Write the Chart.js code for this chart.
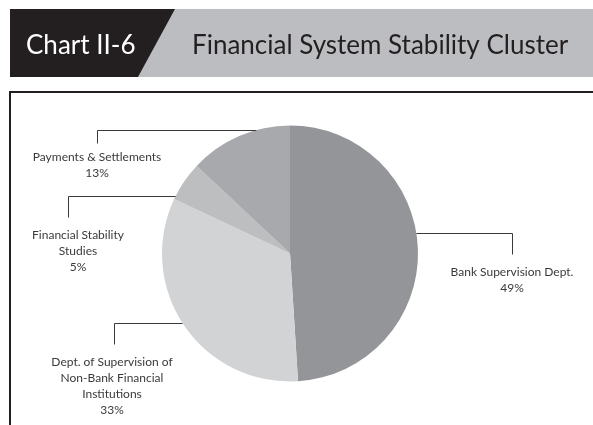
<!DOCTYPE html>
<html>
<head>
<meta charset="utf-8">
<script src="https://cdn.jsdelivr.net/npm/chart.js@4"></script>
<style>
  body { margin: 0; background: #fff; }
  canvas { display: block; }
</style>
</head>
<body>
<canvas id="clusterChart" width="593" height="425"></canvas>
<script>
// slices clockwise from 12 o'clock
const categories = [
    ['Bank Supervision Dept.'],
    ['Dept. of Supervision of', 'Non-Bank Financial', 'Institutions'],
    ['Financial Stability', 'Studies'],
    ['Payments & Settlements']
];
const shares = [49, 33, 5, 13];
const sliceColors = ['#939598', '#d1d3d4', '#bcbec0', '#a7a9ac'];

const chartNumber = 'Chart II-6';
const chartTitle = 'Financial System Stability Cluster';

// where each leader line leaves the pie (y offset from centre), label x, drop length
const leaders = [
    { dy: -20.5, side: 1, labelX: 512, drop: 21, gap: 18 },
    { dy: 69.5, side: -1, labelX: 114, drop: 21, gap: 18, textX: 112 },
    { dy: -57.5, side: -1, labelX: 68, drop: 21, gap: 18, textX: 78 },
    { dy: -123.5, side: -1, labelX: 97, drop: 13, gap: 14 }
];

const frameAndHeader = {
    id: 'frameAndHeader',
    beforeDraw(chart) {
        const ctx = chart.ctx;
        ctx.save();
        ctx.fillStyle = '#fff';
        ctx.fillRect(0, 0, chart.width, chart.height);

        // grey band
        ctx.fillStyle = '#bcbdc0';
        ctx.fillRect(10, 9, chart.width - 10, 68);
        // dark box with slanted edge
        ctx.fillStyle = '#231f20';
        ctx.beginPath();
        ctx.moveTo(10, 9);
        ctx.lineTo(175, 9);
        ctx.lineTo(138, 77);
        ctx.lineTo(10, 77);
        ctx.closePath();
        ctx.fill();

        ctx.font = '26px Lato';
        ctx.textBaseline = 'alphabetic';
        ctx.fillStyle = '#ffffff';
        ctx.fillText(chartNumber, 26, 54);
        ctx.fillStyle = '#231f20';
        ctx.fillText(chartTitle, 192, 54);

        // frame
        ctx.strokeStyle = '#231f20';
        ctx.lineWidth = 2;
        ctx.beginPath();
        ctx.moveTo(chart.width, 92);
        ctx.lineTo(10, 92);
        ctx.lineTo(10, chart.height);
        ctx.stroke();
        ctx.restore();
    }
};

const leaderLabels = {
    id: 'leaderLabels',
    afterDraw(chart) {
        const ctx = chart.ctx;
        const arcs = chart.getDatasetMeta(0).data;
        ctx.save();
        ctx.strokeStyle = '#3a3a3a';
        ctx.lineWidth = 1;
        ctx.fillStyle = '#3a3a3a';
        ctx.font = '12px Lato';
        ctx.textAlign = 'center';
        ctx.textBaseline = 'middle';
        arcs.forEach(function(arc, i) {
            const l = leaders[i];
            const r = arc.outerRadius;
            const y = Math.round(arc.y + l.dy) + 0.5;
            const edgeX = arc.x + l.side * Math.sqrt(r * r - l.dy * l.dy);
            const lx = Math.round(l.labelX) + 0.5;
            ctx.beginPath();
            ctx.moveTo(edgeX, y);
            ctx.lineTo(lx, y);
            ctx.lineTo(lx, y + l.drop);
            ctx.stroke();

            const lines = categories[i].concat([shares[i] + '%']);
            const tx = l.textX || l.labelX;
            let ty = y + l.drop + l.gap;
            lines.forEach(function(t) {
                ctx.fillText(t, tx, ty);
                ty += 16;
            });
        });
        ctx.restore();
    }
};

new Chart(document.getElementById('clusterChart').getContext('2d'), {
    type: 'pie',
    data: {
        labels: categories.map(function(c) { return c.join(' '); }),
        datasets: [{
            data: shares,
            backgroundColor: sliceColors,
            borderWidth: 0
        }]
    },
    options: {
        responsive: false,
        animation: false,
        layout: { padding: { left: 162, right: 175, top: 125, bottom: 43 } },
        plugins: {
            legend: { display: false },
            title: { display: false },
            tooltip: { enabled: false }
        }
    },
    plugins: [frameAndHeader, leaderLabels]
});
</script>
</body>
</html>
